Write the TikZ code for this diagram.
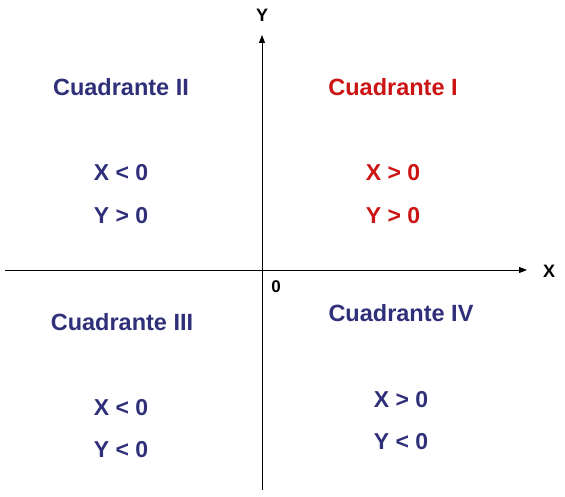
\documentclass[tikz,border=0pt]{standalone}
\usepackage{fontspec}
\setmainfont{Liberation Sans}
\usetikzlibrary{arrows.meta}
\definecolor{qblue}{RGB}{48,48,122}
\definecolor{qred}{RGB}{204,20,20}
\begin{document}
\begin{tikzpicture}[x=1pt,y=-1pt,
  qtitle/.style={font=\bfseries\fontsize{23.5}{28}\selectfont,inner sep=0pt},
  qcond/.style={font=\bfseries\fontsize{23}{27}\selectfont,inner sep=0pt},
  axlabel/.style={font=\bfseries\fontsize{18}{21}\selectfont,inner sep=0pt,text=black},
  axis/.style={line width=0.9pt,-{Triangle[length=8pt,width=6pt]}}]
\useasboundingbox[fill=white] (0,0) rectangle (565,497);
% axes
\coordinate (xs) at (5,270);
\coordinate (xe) at (527,270);
\coordinate (ys) at (262,490);
\coordinate (ye) at (262,35);
\draw[axis] (xs) -- (xe);
\draw[axis] (ys) -- (ye);
\node[axlabel] (lx) at (549,271) {X};
\node[axlabel] (ly) at (262,15) {Y};
\node[axlabel,font=\bfseries\fontsize{17}{20}\selectfont] (lo) at (276,287) {0};
% quadrant I
\node[qtitle,text=qred] (q1) at (393,87) {Cuadrante I};
\node[qcond,text=qred] (q1x) at (393,173) {X > 0};
\node[qcond,text=qred] (q1y) at (393,216) {Y > 0};
% quadrant II
\node[qtitle,text=qblue] (q2) at (121,87) {Cuadrante II};
\node[qcond,text=qblue] (q2x) at (121,173) {X < 0};
\node[qcond,text=qblue] (q2y) at (121,216) {Y > 0};
% quadrant III
\node[qtitle,text=qblue] (q3) at (122,322) {Cuadrante III};
\node[qcond,text=qblue] (q3x) at (121,408) {X < 0};
\node[qcond,text=qblue] (q3y) at (121,450) {Y < 0};
% quadrant IV
\node[qtitle,text=qblue] (q4) at (401,313) {Cuadrante IV};
\node[qcond,text=qblue] (q4x) at (401,400) {X > 0};
\node[qcond,text=qblue] (q4y) at (401,442) {Y < 0};
\end{tikzpicture}
\end{document}
